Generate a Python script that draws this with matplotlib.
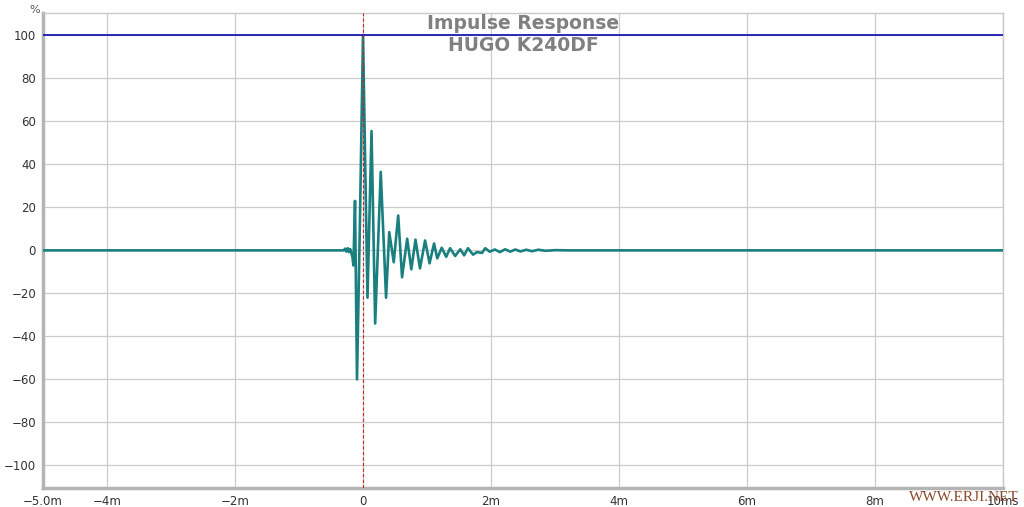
import matplotlib
matplotlib.use("Agg")
import matplotlib.pyplot as plt

# === Data ===
time_ms = [-5.0, -0.30, -0.28, -0.26, -0.24, -0.22, -0.20, -0.18, -0.165, -0.15,
           -0.125, -0.094, -0.05, 0.0, 0.07, 0.133, 0.19, 0.277, 0.36, 0.41,
           0.48, 0.55, 0.61, 0.69, 0.755, 0.82, 0.89, 0.97, 1.04, 1.11, 1.16,
           1.23, 1.30, 1.36, 1.44, 1.52, 1.58, 1.64, 1.72, 1.78, 1.86, 1.91,
           1.98, 2.06, 2.14, 2.22, 2.30, 2.38, 2.46, 2.55, 2.64, 2.74, 2.85,
           3.0, 3.2, 10.0]
resp_pct = [0.0, 0.0, 0.8, -0.6, 1.0, -0.8, 0.6, -1.5, -3.0, -7.0,
            23.0, -60.0, 10.0, 100.0, -22.0, 55.5, -34.0, 36.5, -22.0, 8.5,
            -5.5, 16.2, -12.5, 5.4, -8.8, 5.0, -8.4, 4.6, -6.0, 3.2, -3.7,
            1.2, -3.0, 1.0, -2.6, 0.5, -2.3, 1.0, -2.0, -0.8, -1.2, 1.0,
            -0.6, 0.4, -0.8, 0.5, -0.6, 0.4, -0.5, 0.3, -0.4, 0.3, -0.2,
            0.1, 0.0, 0.0]

ref_level = 100
x_ticks = [-5, -4, -2, 0, 2, 4, 6, 8, 10]
x_labels = ["\u22125.0m", "\u22124m", "\u22122m", "0", "2m", "4m", "6m", "8m", "10ms"]
y_ticks = list(range(-100, 101, 20))

fig = plt.figure(figsize=(10.24, 5.07), dpi=100)
ax = fig.add_axes([0.042, 0.0375, 0.9375, 0.9365])

ax.plot(time_ms, resp_pct, color="#1a7f7f", lw=1.9, solid_joinstyle="round", zorder=3)
ax.axhline(ref_level, color="#1a1ab4", lw=1.3, zorder=4)
ax.axvline(0, color="#cc2222", lw=0.8, ls=(0, (3, 2)), zorder=5)

ax.set_xlim(-5, 10)
ax.set_ylim(-110.5, 110.3)
ax.set_xticks(x_ticks)
ax.set_xticklabels(x_labels)
ax.set_yticks(y_ticks)
ax.tick_params(length=0, labelsize=8.5, colors="#333333", pad=5)
ax.grid(True, color="#cccccc", lw=0.9)
ax.set_axisbelow(True)

for side in ["left", "bottom"]:
    ax.spines[side].set_color("#b4b4b4")
    ax.spines[side].set_linewidth(2.5)
for side in ["top", "right"]:
    ax.spines[side].set_color("#c8c8c8")
    ax.spines[side].set_linewidth(1.0)

fig.text(0.034, 0.99, "%", fontsize=8, color="#555555", ha="center", va="top")
ax.text(0.5, 0.999, "Impulse Response", transform=ax.transAxes, ha="center", va="top",
        fontsize=13.5, fontweight="bold", color="#808080")
ax.text(0.5, 0.951, "HUGO K240DF", transform=ax.transAxes, ha="center", va="top",
        fontsize=13.5, fontweight="bold", color="#808080")

fig.text(0.995, 0.018, "WWW.ERJI.NET", fontsize=11, family="Liberation Serif",
         color="#8b4a2a", ha="right", va="center")

fig.savefig("out.png", dpi=100, facecolor="white")
